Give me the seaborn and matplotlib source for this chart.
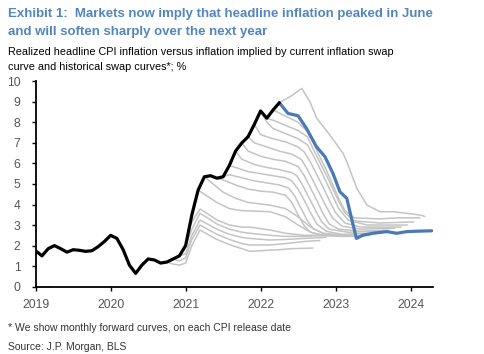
import numpy as np
import pandas as pd
import matplotlib
matplotlib.use('Agg')
import matplotlib.pyplot as plt
import seaborn as sns

# --- data (x in months since Jan 2019) ---
REALIZED_CPI = [1.75, 1.5, 1.85, 2.0, 1.85, 1.68, 1.8, 1.77, 1.72, 1.75,
                1.95, 2.2, 2.5, 2.35, 1.8, 1.05, 0.65, 1.05, 1.35, 1.3,
                1.15, 1.2, 1.35, 1.5, 2.0, 3.5, 4.7, 5.35, 5.4, 5.28,
                5.35, 5.9, 6.6, 7.0, 7.3, 7.9, 8.55, 8.2, 8.6, 8.95]

CURRENT_MONTHS = [39, 40.4, 42.0, 43.35, 44.95, 46.3, 47.6, 48.7, 49.8, 50.55,
                  51.35, 52.4, 54.0, 56.2, 57.8, 59.4, 61.0, 63.4]
CURRENT_SWAP = [8.95, 8.43, 8.32, 7.7, 6.81, 6.33, 5.5, 4.62, 4.3, 3.33,
                2.35, 2.51, 2.6, 2.68, 2.6, 2.68, 2.7, 2.72]

# historical forward curves, one per CPI release: months / values
HIST_MONTHS = {
    'stub': [0, 2.6],
    'c21': [21, 22, 23, 24, 25, 26.3, 27.5, 29, 31, 33, 34.3, 36, 37.5, 39, 41, 44.4],
    'c22': [22, 23, 24, 25, 26.3, 27.5, 29, 31, 33, 34.3, 37.5, 40, 43, 45.5],
    'c23': [23, 24, 25, 26.3, 27.5, 29, 31, 33, 34.3, 37.5, 40, 43, 46.5],
    'c24': [24, 25, 26.3, 27.5, 29, 31, 33, 34.3, 37.5, 40, 43, 47.5],
    'c24b': [24.6, 25.3, 26.3, 27.5, 29, 31, 33, 34.3, 37.5, 40, 43, 46, 48],
    'c26': [26, 27, 29, 31, 33, 35, 37.5, 40, 42, 44, 46, 49.5],
    'c27': [27, 28, 30, 32, 34, 37.5, 40, 42, 44, 46, 48, 50.5],
    'c29': [29, 30, 32, 34, 36, 38, 40, 41, 42, 43, 44, 46, 49, 52.5],
    'c30': [30, 31, 33, 35, 37, 39, 40.5, 41.5, 42.5, 43.5, 44.5, 46, 49, 53.5],
    'c31': [31, 32, 34, 36, 38, 40, 41, 42, 43, 44, 45, 46.5, 49, 54.5],
    'c32': [32, 33, 35, 37, 39, 41, 41.8, 42.8, 43.8, 44.8, 45.8, 47, 50, 55.5],
    'c33': [33, 34, 36, 38, 40, 42, 43, 44, 45, 46, 47, 48.5, 52, 56.5],
    'c34': [34, 35, 37, 39, 41, 42.5, 43.5, 44.5, 45.5, 46.5, 47.5, 49, 52, 57.5],
    'c35': [35, 36, 38, 40, 42, 43, 44, 45, 46, 47, 48, 49.5, 52, 58.5],
    'c36': [36, 37, 38, 40, 42, 43.5, 44.5, 45.5, 46.5, 47.5, 48.5, 50, 53, 59.5],
    'c37': [37, 38, 40, 42, 43.5, 44.5, 45.5, 46.5, 47.5, 48.5, 49.5, 51, 55, 60.5],
    'c38': [38, 39, 40, 42, 43.5, 44.5, 45.5, 46.5, 47.5, 48.5, 49.5, 51, 55, 58, 61.5],
    'c39': [39, 41, 42.6, 43.9, 45.0, 47.1, 49.2, 49.8, 51.4, 53.0, 55.1, 57.2, 59.4, 61.5, 62.3],
}
HIST_VALUES = {
    'stub': [0.0, 0.0],
    'c21': [1.2, 1.1, 1.05, 1.15, 2.0, 2.76, 2.55, 2.3, 2.05, 1.85, 1.72, 1.75, 1.78, 1.8, 1.85, 1.88],
    'c22': [1.35, 1.25, 1.4, 2.3, 3.0, 2.8, 2.55, 2.3, 2.1, 2.03, 2.03, 2.1, 2.2, 2.25],
    'c23': [1.5, 1.6, 2.5, 3.24, 3.05, 2.8, 2.55, 2.4, 2.35, 2.27, 2.3, 2.35, 2.4],
    'c24': [2.0, 2.8, 3.57, 3.35, 3.05, 2.8, 2.65, 2.6, 2.5, 2.45, 2.45, 2.5],
    'c24b': [2.9, 3.3, 3.78, 3.55, 3.25, 3.0, 2.9, 2.9, 2.76, 2.6, 2.5, 2.5, 2.55],
    'c26': [4.7, 4.5, 4.1, 3.8, 3.7, 3.68, 3.65, 3.4, 3.0, 2.65, 2.5, 2.45],
    'c27': [5.35, 5.1, 4.6, 4.3, 4.1, 3.97, 3.8, 3.4, 2.9, 2.6, 2.5, 2.5],
    'c29': [5.28, 5.2, 4.95, 4.75, 4.65, 4.6, 4.45, 4.1, 3.5, 2.95, 2.65, 2.5, 2.45, 2.45],
    'c30': [5.35, 5.45, 5.3, 5.15, 5.05, 4.95, 4.8, 4.4, 3.8, 3.2, 2.8, 2.6, 2.5, 2.5],
    'c31': [5.9, 5.8, 5.6, 5.5, 5.4, 5.3, 5.15, 4.75, 4.2, 3.6, 3.05, 2.7, 2.55, 2.6],
    'c32': [6.6, 6.2, 5.95, 5.8, 5.7, 5.55, 5.4, 4.9, 4.3, 3.7, 3.15, 2.8, 2.65, 2.7],
    'c33': [7.0, 6.6, 6.35, 6.2, 6.1, 5.85, 5.4, 4.8, 4.2, 3.55, 3.05, 2.8, 2.7, 2.75],
    'c34': [7.3, 7.0, 6.8, 6.6, 6.45, 6.2, 5.7, 5.1, 4.5, 3.9, 3.35, 2.95, 2.8, 2.85],
    'c35': [7.9, 7.4, 7.2, 7.05, 6.8, 6.55, 6.05, 5.45, 4.85, 4.2, 3.6, 3.1, 2.9, 2.9],
    'c36': [8.55, 8.0, 7.7, 7.45, 7.2, 6.9, 6.35, 5.75, 5.1, 4.45, 3.8, 3.25, 3.0, 3.0],
    'c37': [8.2, 8.1, 7.85, 7.6, 7.3, 6.65, 6.05, 5.45, 4.8, 4.15, 3.6, 3.2, 3.1, 3.15],
    'c38': [8.6, 8.45, 8.3, 8.0, 7.55, 6.95, 6.3, 5.7, 5.0, 4.3, 3.7, 3.35, 3.3, 3.35, 3.35],
    'c39': [8.95, 9.3, 9.65, 9.0, 8.19, 7.38, 6.49, 6.08, 4.79, 3.98, 3.65, 3.65, 3.57, 3.49, 3.42],
}

YEAR_TICKS = [2019, 2020, 2021, 2022, 2023, 2024]

TITLE_1 = "Exhibit 1:  Markets now imply that headline inflation peaked in June"
TITLE_2 = "and will soften sharply over the next year"
SUB_1 = "Realized headline CPI inflation versus inflation implied by current inflation swap"
SUB_2 = "curve and historical swap curves*; %"
NOTE = "* We show monthly forward curves, on each CPI release date"
SOURCE = "Source: J.P. Morgan, BLS"


def to_year(months):
    return [2019 + m / 12 for m in months]


sns.set_style("white")
plt.rcParams['font.family'] = ['Liberation Sans', 'DejaVu Sans']

W, H = 485, 354
fig = plt.figure(figsize=(W / 100, H / 100), dpi=100)
ax = fig.add_axes([35.7 / W, 1 - 286.7 / H, (433 - 35.7) / W, (286.7 - 81.2) / H])

GRAY = '#c4c4c4'
BLUE = '#4a7ab4'

# historical curves (long form, one unit per curve)
rows = []
for key in HIST_MONTHS:
    for m, v in zip(HIST_MONTHS[key], HIST_VALUES[key]):
        rows.append({'curve': key, 'year': 2019 + m / 12, 'value': v})
hist = pd.DataFrame(rows)
sns.lineplot(data=hist, x='year', y='value', units='curve', estimator=None,
             color=GRAY, linewidth=1.1, ax=ax, zorder=2, clip_on=False)

sns.lineplot(x=to_year(range(len(REALIZED_CPI))), y=REALIZED_CPI, color='black',
             linewidth=2.3, ax=ax, zorder=4)
sns.lineplot(x=to_year(CURRENT_MONTHS), y=CURRENT_SWAP, color=BLUE,
             linewidth=2.3, ax=ax, zorder=3)

ax.set_xlim(2019, 2024.3)
ax.set_ylim(0, 10)
ax.set_xticks(YEAR_TICKS)
ax.set_xticklabels([str(y) for y in YEAR_TICKS])
ax.set_yticks(range(0, 11))
ax.set_xlabel('')
ax.set_ylabel('')
for side in ['top', 'right']:
    ax.spines[side].set_visible(False)
for side in ['left', 'bottom']:
    ax.spines[side].set_color('black')
    ax.spines[side].set_linewidth(1.3)
ax.tick_params(axis='both', which='both', direction='out', length=3, width=1,
               color='black', labelcolor='#555555', labelsize=8.7,
               left=True, bottom=True)
ax.tick_params(axis='x', pad=6)
ax.tick_params(axis='y', pad=8)

# header and footer text
fig.text(8 / W, 1 - 17 / H, TITLE_1, color='#5286c0', fontsize=9.5,
         fontweight='bold', va='baseline')
fig.text(8 / W, 1 - 35 / H, TITLE_2, color='#5286c0', fontsize=9.5,
         fontweight='bold', va='baseline')
fig.text(8 / W, 1 - 55 / H, SUB_1, color='black', fontsize=7.85, va='baseline')
fig.text(8 / W, 1 - 70 / H, SUB_2, color='black', fontsize=7.85, va='baseline')
fig.text(8 / W, 1 - 331 / H, NOTE, color='#333333', fontsize=7.45, va='baseline')
fig.text(8 / W, 1 - 350 / H, SOURCE, color='#333333', fontsize=7.45, va='baseline')

fig.savefig('out.png', dpi=100)
